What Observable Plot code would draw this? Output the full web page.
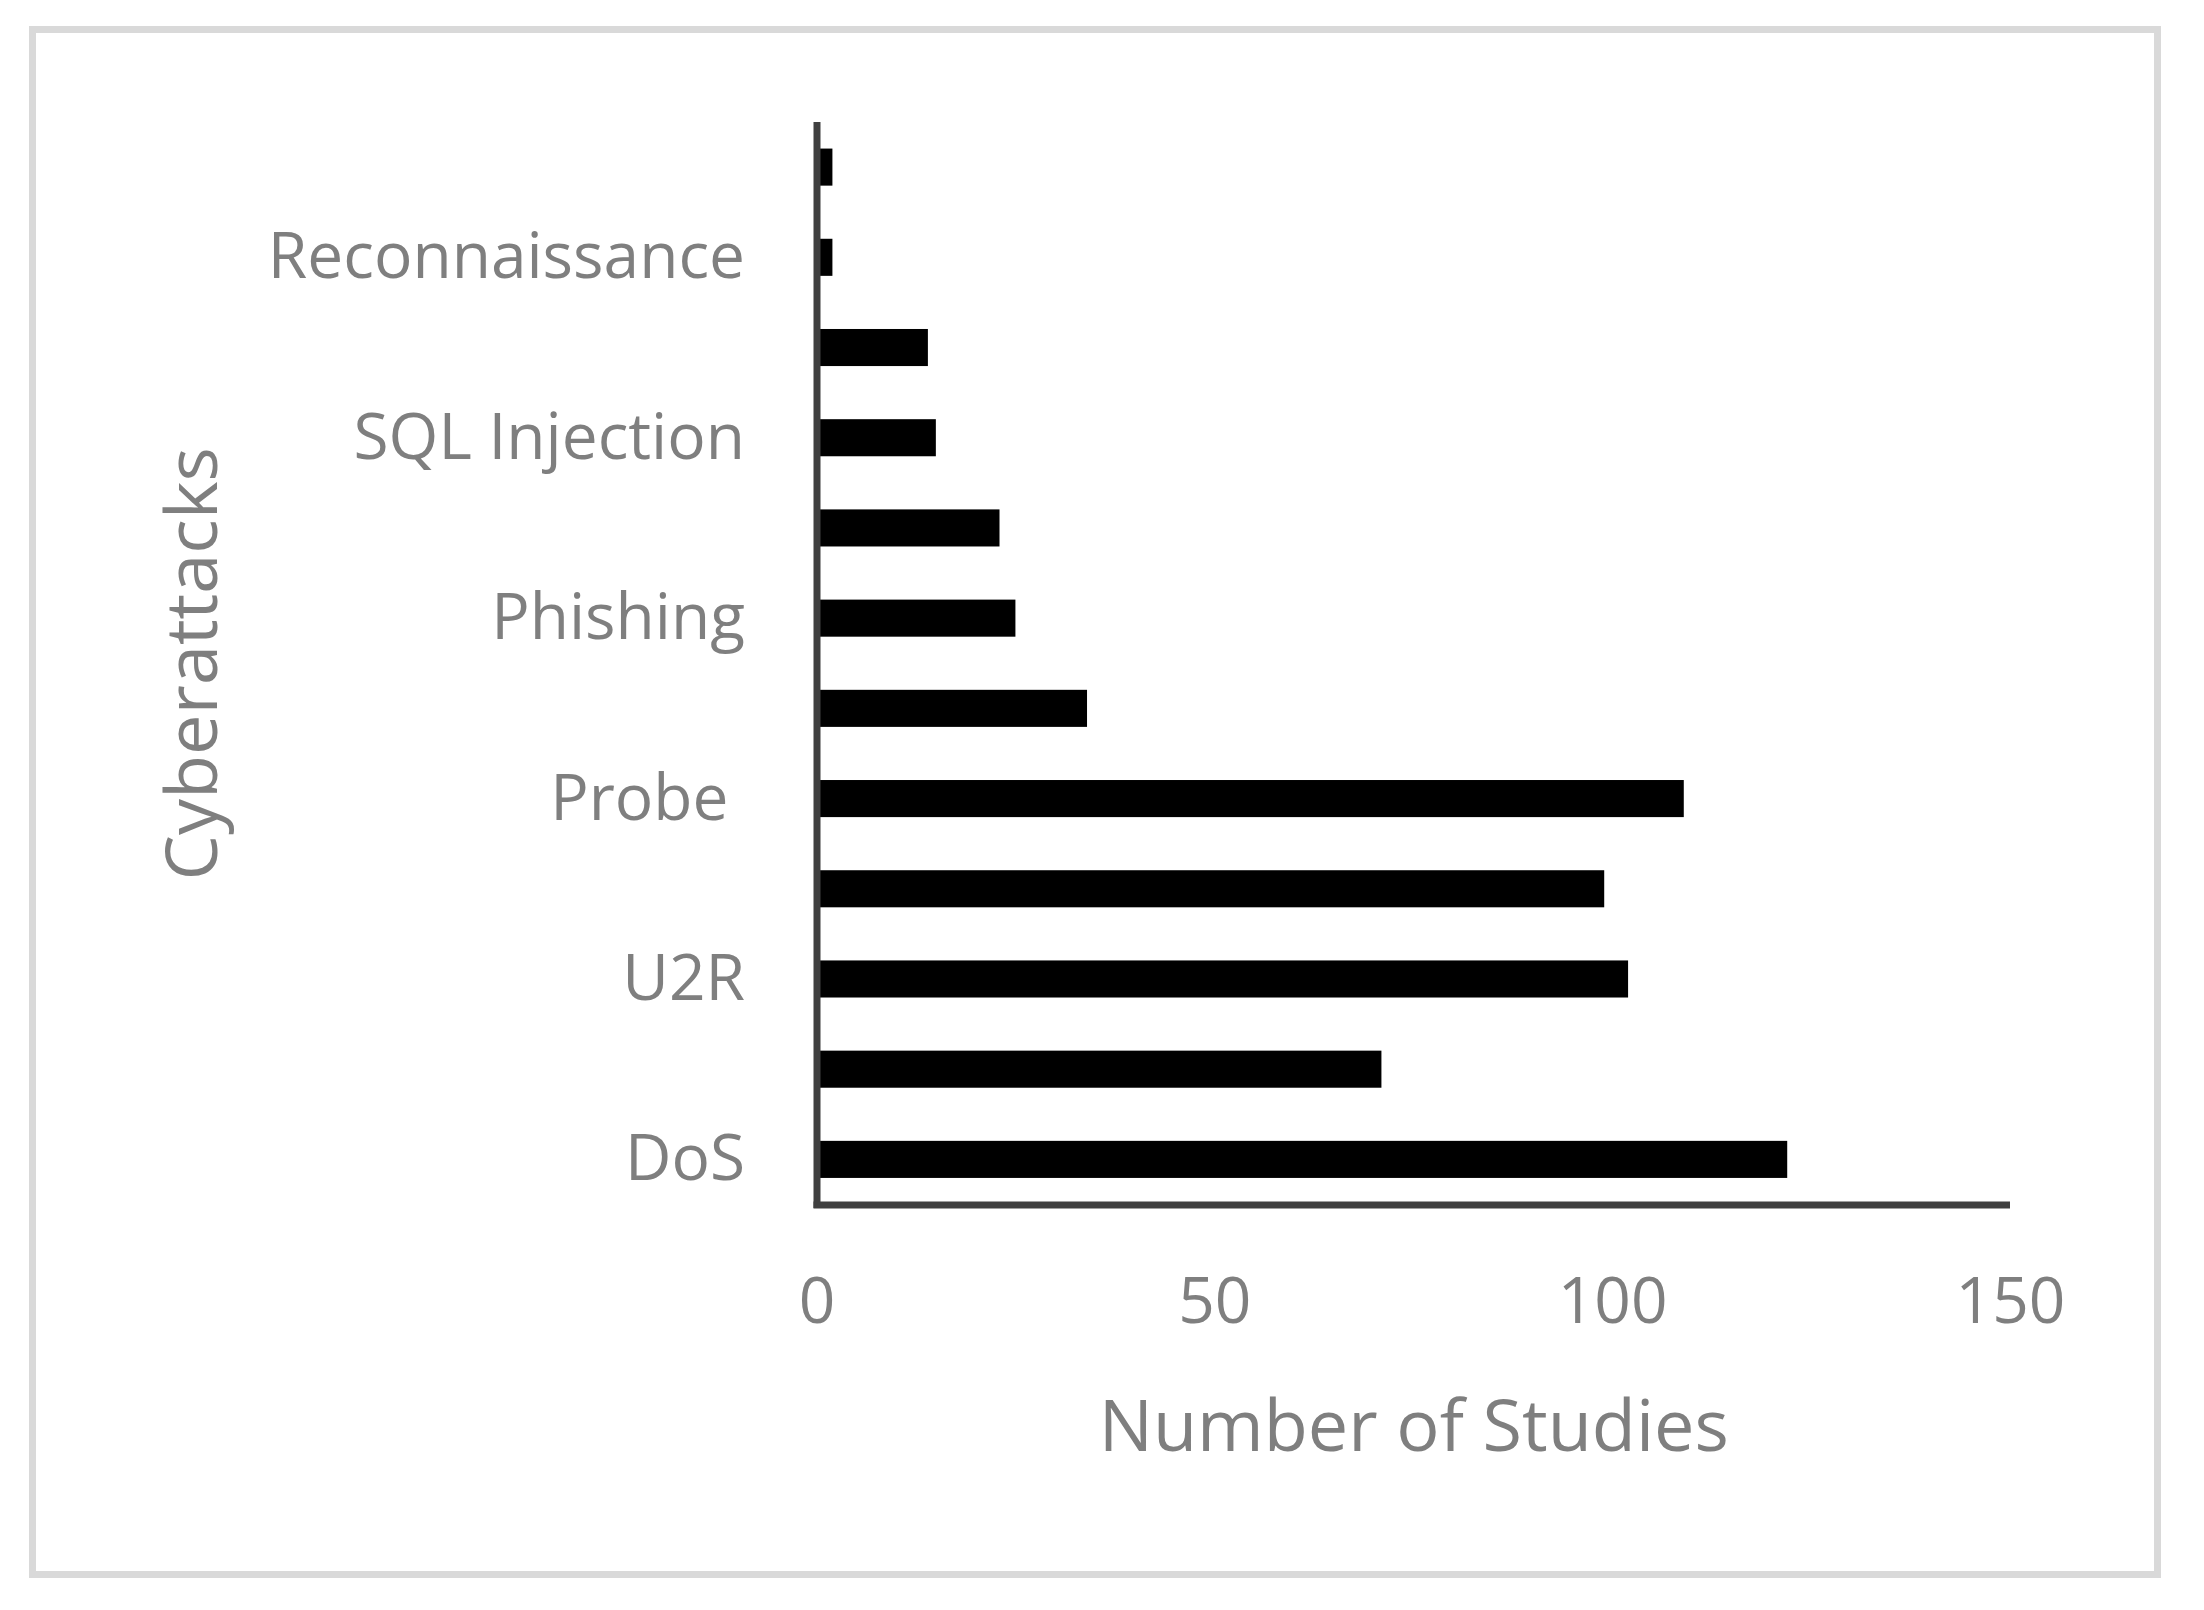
<!DOCTYPE html>
<html><head><meta charset="utf-8">
<script src="https://cdn.jsdelivr.net/npm/d3@7"></script>
<script src="https://cdn.jsdelivr.net/npm/@observablehq/plot@0.6"></script>
<style>
html,body{margin:0;padding:0;background:#fff;}
#wrap{position:relative;width:2204px;height:1610px;overflow:hidden;background:#fff;}
#chart{position:absolute;left:0;top:0;}
#border{position:absolute;left:29px;top:26px;width:2132px;height:1552px;box-sizing:border-box;border:7.5px solid #d9d9d9;pointer-events:none;}
svg text{white-space:pre;}
</style></head><body>
<div id="wrap"><div id="chart"></div><div id="border"></div></div>
<script>
// Categories bottom-to-top as in the source chart (only every other label is shown there)
const categories = ["DoS", "(unlabeled 2)", "U2R", "(unlabeled 4)", "Probe ", "(unlabeled 6)",
  "Phishing", "(unlabeled 8)", "SQL Injection", "(unlabeled 10)", "Reconnaissance", "(unlabeled 12)"];
const studies = [122, 71, 102, 99, 109, 34, 25, 23, 15, 14, 2, 2];
const yTickLabels = ["DoS", "U2R", "Probe ", "Phishing", "SQL Injection", "Reconnaissance"];
const xTicks = [0, 50, 100, 150];
const xTitle = "Number of Studies";
const yTitle = "Cyberattacks";

const data = categories.map((c, i) => ({category: c, value: studies[i]}));
const textColor = "#7f7f7f";
const axisColor = "#404040";

const chart = Plot.plot({
  width: 2204,
  height: 1610,
  marginLeft: 816.5,
  marginRight: 194,
  marginTop: 122,
  marginBottom: 405.5,
  style: {fontFamily: "'Open Sans', sans-serif", background: "transparent"},
  x: {domain: [0, 150]},
  y: {type: "band", domain: categories.slice().reverse(), paddingInner: 0.589, paddingOuter: 0.2945, round: false},
  marks: [
    Plot.barX(data, {x: "value", y: "category", fill: "#000"}),
    Plot.ruleX([0], {stroke: axisColor, strokeWidth: 7, insetBottom: -3.5}),
    Plot.frame({anchor: "bottom", stroke: axisColor, strokeWidth: 7, insetRight: 4}),
    Plot.axisX({ticks: xTicks, tickSize: 0, tickPadding: 73, fontSize: 64, color: textColor, fill: textColor, label: null}),
    Plot.axisY({ticks: yTickLabels, tickSize: 0, tickPadding: 72, fontSize: 64, color: textColor, fill: textColor, label: null}),
    Plot.text([xTitle], {text: d => d, frameAnchor: "bottom", textAnchor: "middle", lineAnchor: "bottom", dy: 245.5, fontSize: 72, fill: textColor}),
    Plot.text([yTitle], {text: d => d, frameAnchor: "left", textAnchor: "middle", rotate: -90, lineAnchor: "bottom", dx: -600.5, fontSize: 72, fill: textColor})
  ]
});
document.getElementById("chart").appendChild(chart);
</script>
</body></html>
